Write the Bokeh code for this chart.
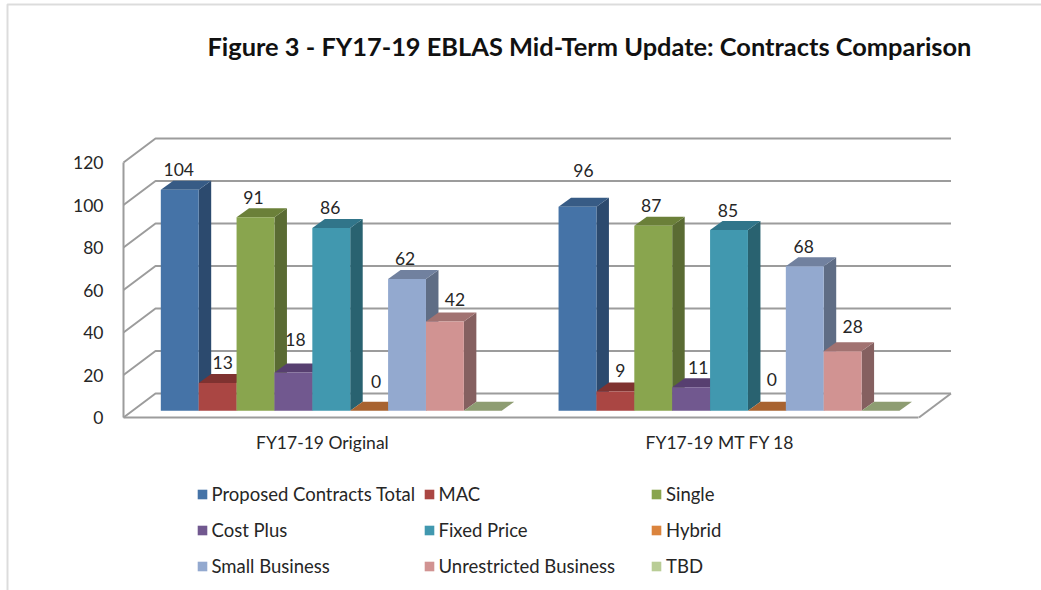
from bokeh.plotting import figure
from bokeh.embed import file_html
from bokeh.resources import INLINE
from bokeh.models import (Range1d, Legend, LegendItem, FixedTicker, Label, BoxAnnotation,
                          ColumnDataSource)
from bokeh.core.properties import value

categories = ["FY17-19 Original", "FY17-19 MT FY 18"]
series_names = ["Proposed Contracts Total", "MAC", "Single", "Cost Plus", "Fixed Price",
                "Hybrid", "Small Business", "Unrestricted Business", "TBD"]
proposed = [104, 96]
mac = [13, 9]
single = [91, 87]
cost_plus = [18, 11]
fixed_price = [86, 85]
hybrid = [0, 0]
small_business = [62, 68]
unrestricted = [42, 28]
tbd = [0, 0]
y_ticks = [0, 20, 40, 60, 80, 100, 120]
title_text = "Figure 3 - FY17-19 EBLAS Mid-Term Update: Contracts Comparison"

series_values = [proposed, mac, single, cost_plus, fixed_price, hybrid,
                 small_business, unrestricted, tbd]
show_label = [True] * 8 + [False]

front_col = ["#4573A7", "#AA4643", "#89A54E", "#71588F", "#4198AF", "#DB843D", "#93A9CF", "#D19392", "#B9CD96"]
top_col = ["#375B85", "#7F3230", "#6B8039", "#573F70", "#31758A", "#A86330", "#71819F", "#A17271", "#8E9D72"]
side_col = ["#2C4A6E", "#6E2B29", "#5A6B33", "#4A3560", "#296270", "#8F5429", "#5F6D85", "#856060", "#7A8762"]

# manual label nudges (pixels) per series, per group, as in the source chart
label_dx = [[-1, 6], [5, 5], [-2, -2], [2, 7], [-1, -1], [7, 5], [-2, -1], [10, 10], [0, 0]]
label_dy = [[20, 36], [21, 21], [20, 20], [33, 20], [20, 20], [29, 31], [20, 20], [22, 25], [0, 0]]

W, H = 1041, 590
AXIS_L, AXIS_B = 123, 417
SLOT_PX, UNIT_PX = 37.88, 2.125
BAR_X0, GROUP_STEP = 0.985, 10.5
BAR_BASE = 3.2
BAR_DX, BAR_DY = 12.5 / SLOT_PX, 9.0 / UNIT_PX
WALL_DX, WALL_DY = 32.0 / SLOT_PX, 24.0 / UNIT_PX
FLOOR_W = 21.0
GRID = "#9C9C9C"
TEXT = "#262626"
FONT = "Lato"

p = figure(width=W, height=H, output_backend="svg", toolbar_location=None,
           x_range=Range1d(-AXIS_L / SLOT_PX, (W - AXIS_L) / SLOT_PX),
           y_range=Range1d(-(H - AXIS_B) / UNIT_PX, AXIS_B / UNIT_PX),
           min_border=0, outline_line_color=None, background_fill_color="white")
p.xgrid.visible = False
p.ygrid.visible = False

# page border
p.add_layout(BoxAnnotation(left=7, right=W + 20, top=4, bottom=H + 20,
                           left_units="canvas", right_units="canvas",
                           top_units="canvas", bottom_units="canvas",
                           fill_color=None, line_color="#8A8A8A", line_width=2))

# walls
xs, ys = [], []
for t in y_ticks:
    xs.append([0, WALL_DX, FLOOR_W + WALL_DX])
    ys.append([t, t + WALL_DY, t + WALL_DY])
xs.append([FLOOR_W, FLOOR_W + WALL_DX])
ys.append([0, WALL_DY])
p.multi_line(xs, ys, line_color=GRID, line_width=2)

# bars, painted left to right so later bars cover earlier side faces
renderers = []
for s, vals in enumerate(series_values):
    lefts = [BAR_X0 + g * GROUP_STEP + s for g in range(len(vals))]
    tops = [v + BAR_BASE for v in vals]
    p.patches([[l + 1, l + 1 + BAR_DX, l + 1 + BAR_DX, l + 1] for l in lefts],
              [[BAR_BASE, BAR_BASE + BAR_DY, t + BAR_DY, t] for t in tops],
              fill_color=side_col[s], line_color=None)
    p.patches([[l, l + BAR_DX, l + 1 + BAR_DX, l + 1] for l in lefts],
              [[t, t + BAR_DY, t + BAR_DY, t] for t in tops],
              fill_color=top_col[s], line_color=None)
    r = p.vbar(x=[l + 0.5 for l in lefts], width=1.0, bottom=BAR_BASE, top=tops,
               fill_color=front_col[s], line_color=None)
    renderers.append(r)

# data labels
lx, ly, lt, ox, oy = [], [], [], [], []
for s, vals in enumerate(series_values):
    if not show_label[s]:
        continue
    for g, v in enumerate(vals):
        lx.append(BAR_X0 + g * GROUP_STEP + s + 0.5)
        ly.append(v + BAR_BASE)
        lt.append(str(v))
        ox.append(label_dx[s][g])
        oy.append(-label_dy[s][g])
p.text(x="x", y="y", text="t", x_offset="ox", y_offset="oy",
       source=ColumnDataSource(dict(x=lx, y=ly, t=lt, ox=ox, oy=oy)),
       text_font=value(FONT), text_font_size="17.5px", text_color=TEXT,
       text_align="center", text_baseline="middle")

# axes, pinned to the front corner of the chart box
ya = p.yaxis[0]
ya.fixed_location = 0
ya.ticker = FixedTicker(ticks=y_ticks)
ya.bounds = (y_ticks[0], y_ticks[-1])
ya.axis_line_color = GRID
ya.axis_line_width = 2
ya.major_tick_line_color = None
ya.minor_tick_line_color = None
ya.major_label_standoff = 14
ya.major_label_text_font = FONT
ya.major_label_text_font_size = "17.5px"
ya.major_label_text_color = TEXT

xa = p.xaxis[0]
xa.fixed_location = 0
centres = [(FLOOR_W / 2) * (g + 0.5) for g in range(len(categories))]
xa.ticker = FixedTicker(ticks=centres)
xa.major_label_overrides = {c: n for c, n in zip(centres, categories)}
xa.bounds = (0, FLOOR_W)
xa.axis_line_color = GRID
xa.axis_line_width = 2
xa.major_tick_line_color = None
xa.minor_tick_line_color = None
xa.major_label_standoff = 8
xa.major_label_text_font = FONT
xa.major_label_text_font_size = "17.5px"
xa.major_label_text_color = TEXT

# title
p.add_layout(Label(x=207, y=H - 45, x_units="screen", y_units="screen", text=title_text,
                   text_font=FONT, text_font_style="bold", text_font_size="25.4px",
                   text_color="#111111", text_baseline="middle", text_align="left"))

# legend: three equal columns
for c, x_pos in enumerate([195.5, 422.5, 650]):
    items = [LegendItem(label=series_names[i], renderers=[renderers[i]]) for i in (c, c + 3, c + 6)]
    leg = Legend(items=items, location=(x_pos, H - 577),
                 orientation="vertical", padding=0, margin=0, spacing=14,
                 glyph_width=12, glyph_height=12, label_standoff=4, label_height=20,
                 label_text_font=FONT, label_text_font_size="18.5px", label_text_color=TEXT,
                 background_fill_alpha=0, border_line_color=None)
    p.add_layout(leg, "center")

open("out.html", "w").write(file_html(p, INLINE))
